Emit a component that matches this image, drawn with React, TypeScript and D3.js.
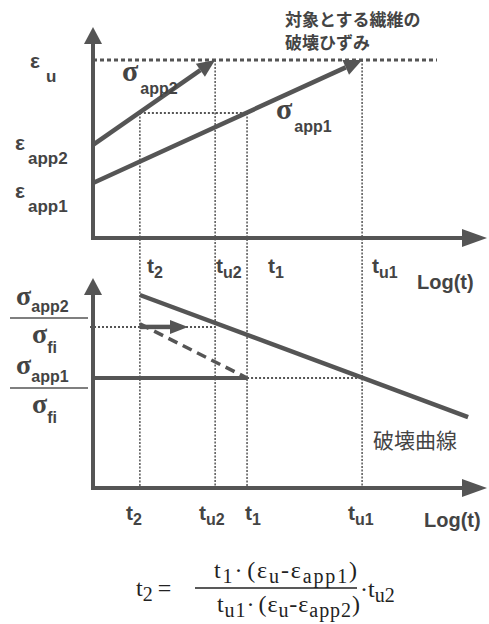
import React from "react";
import * as d3 from "d3";

// Log(t) positions of the characteristic times
const timeNames = ["t2", "tu2", "t1", "tu1"];
const timeValues = [1.19, 3.1, 3.91, 6.83];

// Strain levels (upper panel)
const strainU = 8.44;
const strainApp2 = 4.41;
const strainApp1 = 2.61;
const strainApp1AtT1 = 5.92;

// Stress ratios (lower panel)
const ratioApp2 = 7.67;
const ratioApp1 = 5.24;
const breakCurveT = [1.19, 9.52];
const breakCurveR = [9.19, 3.38];

const W = 489;
const H = 624;
const INK = "#555";
const TXT = "#444";
const SANS = "'Liberation Sans', Arial, sans-serif";
const SERIF = "'Liberation Serif', 'Times New Roman', serif";
const JP = "'Noto Sans CJK JP', sans-serif";

const x = d3.scaleLinear().domain([0, 10]).range([93, 487]);
const yTop = d3.scaleLinear().domain([0, 10]).range([238, 27]);
const yBot = d3.scaleLinear().domain([0, 10]).range([488, 278]);

const tx = (name: string) => x(timeValues[timeNames.indexOf(name)]);

function Arrow({ x1, y1, x2, y2, w = 4.5, head = 18, hw = 8 }: any) {
  const a = Math.atan2(y2 - y1, x2 - x1);
  const bx = x2 - head * Math.cos(a);
  const by = y2 - head * Math.sin(a);
  const px = -Math.sin(a) * hw;
  const py = Math.cos(a) * hw;
  return (
    <g>
      <line x1={x1} y1={y1} x2={bx} y2={by} stroke={INK} strokeWidth={w} />
      <polygon points={`${x2},${y2} ${bx + px},${by + py} ${bx - px},${by - py}`} fill={INK} />
    </g>
  );
}

function TLabel({ x: lx, y: ly, sub }: any) {
  return (
    <text x={lx} y={ly} fontFamily={SANS} fontWeight="bold" fontSize={21} fill={TXT}>
      t
      <tspan fontSize={16} dy={5}>{sub}</tspan>
    </text>
  );
}

function GreekLabel({ x: lx, y: ly, sym, sub, dx = 2, dy = 13, size = 30 }: any) {
  return (
    <text x={lx} y={ly} fill={TXT}>
      <tspan fontFamily={SERIF} fontWeight="bold" fontSize={size}>{sym}</tspan>
      <tspan fontFamily={SANS} fontWeight="bold" fontSize={16} dx={dx} dy={dy}>{sub}</tspan>
    </text>
  );
}

function EpsLabel({ x: lx, y: ly, sub, dx = 3 }: any) {
  return (
    <text x={lx} y={ly} fill={TXT} fontFamily={SANS} fontWeight="bold">
      <tspan fontSize={21}>ε</tspan>
      <tspan fontSize={17} dx={dx} dy={14}>{sub}</tspan>
    </text>
  );
}

// One side of the fraction: t_a · (ε_u - ε_b)
function Factor({ x: fx, y: fy, tSub, eSub, len }: any) {
  return (
    <text x={fx} y={fy} textLength={len} lengthAdjust="spacing">
      t<tspan fontSize={20} dy={5}>{tSub}</tspan>
      <tspan dy={-5}>·</tspan>
      <tspan dx={3}>(ε</tspan>
      <tspan fontSize={20} dy={5}>u</tspan>
      <tspan dy={-5}>-ε</tspan>
      <tspan fontSize={20} dy={5}>{eSub}</tspan>
      <tspan dy={-5}>)</tspan>
    </text>
  );
}

export default function App() {
  const dotV = { stroke: INK, strokeWidth: 1.5, strokeDasharray: "2 1.5" };
  const dotH = { stroke: INK, strokeWidth: 2, strokeDasharray: "2 2" };
  return (
    <svg width={W} height={H} style={{ position: "absolute", left: 0, top: 0, background: "#fff" }}>
      {/* ---------- upper panel: strain vs Log(t) ---------- */}
      <line x1={x(0)} y1={yTop(strainU)} x2={437} y2={yTop(strainU)} stroke={INK} strokeWidth={3} strokeDasharray="4 3" />
      <line x1={tx("t2")} y1={yTop(strainApp1AtT1)} x2={tx("t1")} y2={yTop(strainApp1AtT1)} {...dotH} />
      <line x1={tx("t2")} y1={yTop(strainApp1AtT1)} x2={tx("t2")} y2={yBot(0)} {...dotV} />
      <line x1={tx("tu2")} y1={yTop(strainU)} x2={tx("tu2")} y2={yBot(0)} {...dotV} />
      <line x1={tx("t1")} y1={yTop(strainApp1AtT1)} x2={tx("t1")} y2={yBot(0)} {...dotV} />
      <line x1={tx("tu1")} y1={yTop(strainU)} x2={tx("tu1")} y2={yBot(0)} {...dotV} />

      <Arrow x1={x(0)} y1={yTop(strainApp2)} x2={tx("tu2")} y2={yTop(strainU)} />
      <Arrow x1={x(0)} y1={yTop(strainApp1)} x2={tx("tu1")} y2={yTop(strainU)} />

      <Arrow x1={x(0)} y1={yTop(0) + 2} x2={x(0)} y2={yTop(10)} w={4} head={17} hw={9} />
      <Arrow x1={x(0) - 2} y1={yTop(0)} x2={x(10)} y2={yTop(0)} w={4} head={25} hw={9} />

      <EpsLabel x={30} y={68} sub="u" dx={6} />
      <EpsLabel x={15} y={150} sub="app2" />
      <EpsLabel x={15} y={198} sub="app1" />

      <GreekLabel x={122} y={81} sym="σ" sub="app2" />
      <GreekLabel x={276} y={119} sym="σ" sub="app1" />

      <text x={285} y={26} fill={TXT} fontFamily={JP} fontSize={17} fontWeight="bold">対象とする繊維の</text>
      <text x={285} y={49} fill={TXT} fontFamily={JP} fontSize={17} fontWeight="bold">破壊ひずみ</text>

      <TLabel x={147} y={273} sub="2" />
      <TLabel x={216} y={273} sub="u2" />
      <TLabel x={268} y={273} sub="1" />
      <TLabel x={372} y={273} sub="u1" />
      <text x={417} y={289} fill={TXT} fontFamily={SANS} fontWeight="bold" fontSize={20}>Log(t)</text>

      {/* ---------- lower panel: stress ratio vs Log(t) ---------- */}
      <line x1={x(0) - 3} y1={yBot(ratioApp2)} x2={tx("tu2")} y2={yBot(ratioApp2)} {...dotH} />
      <line x1={tx("t1")} y1={yBot(ratioApp1)} x2={tx("tu1")} y2={yBot(ratioApp1)} {...dotH} />
      <line x1={x(0)} y1={yBot(ratioApp1)} x2={tx("t1")} y2={yBot(ratioApp1)} stroke={INK} strokeWidth={4} />
      <line
        x1={tx("t2")}
        y1={yBot(ratioApp2) - 3}
        x2={tx("t1")}
        y2={yBot(ratioApp1)}
        stroke={INK}
        strokeWidth={3.5}
        strokeDasharray="10 6"
      />
      <Arrow x1={tx("t2")} y1={yBot(ratioApp2)} x2={188} y2={yBot(ratioApp2)} w={4.5} head={18} hw={7} />
      <line
        x1={x(breakCurveT[0])}
        y1={yBot(breakCurveR[0])}
        x2={x(breakCurveT[1])}
        y2={yBot(breakCurveR[1])}
        stroke={INK}
        strokeWidth={4.5}
      />

      <Arrow x1={x(0)} y1={yBot(0) + 2} x2={x(0)} y2={yBot(10)} w={4} head={17} hw={9} />
      <Arrow x1={x(0) - 2} y1={yBot(0)} x2={x(10)} y2={yBot(0)} w={4} head={25} hw={9} />

      <GreekLabel x={16} y={305} sym="σ" sub="app2" dx={0} dy={7} size={28} />
      <line x1={10} y1={318} x2={88} y2={318} stroke={INK} strokeWidth={1.5} />
      <GreekLabel x={32} y={343} sym="σ" sub="fi" dx={0} dy={10} size={28} />
      <GreekLabel x={16} y={374} sym="σ" sub="app1" dx={0} dy={8} size={28} />
      <line x1={10} y1={388} x2={88} y2={388} stroke={INK} strokeWidth={1.5} />
      <GreekLabel x={32} y={413} sym="σ" sub="fi" dx={0} dy={10} size={28} />

      <text x={373} y={448} fill={TXT} fontFamily={JP} fontSize={21}>破壊曲線</text>

      <TLabel x={126} y={520} sub="2" />
      <TLabel x={199} y={520} sub="u2" />
      <TLabel x={245} y={520} sub="1" />
      <TLabel x={348} y={520} sub="u1" />
      <text x={424} y={527} fill={TXT} fontFamily={SANS} fontWeight="bold" fontSize={20}>Log(t)</text>

      {/* ---------- relation between the times ---------- */}
      <g fontFamily={SERIF} fill="#222" fontSize={24}>
        <text x={136} y={596}>
          t<tspan fontSize={20} dy={5}>2</tspan>
          <tspan dy={-5} dx={5}>=</tspan>
        </text>
        <Factor x={214} y={578} tSub="1" eSub="app1" len={143} />
        <line x1={195} y1={588} x2={357} y2={588} stroke="#222" strokeWidth={1.3} />
        <Factor x={217} y={612} tSub="u1" eSub="app2" len={143} />
        <text x={360} y={597}>
          ·t<tspan fontSize={20} dy={5}>u2</tspan>
        </text>
      </g>
    </svg>
  );
}
